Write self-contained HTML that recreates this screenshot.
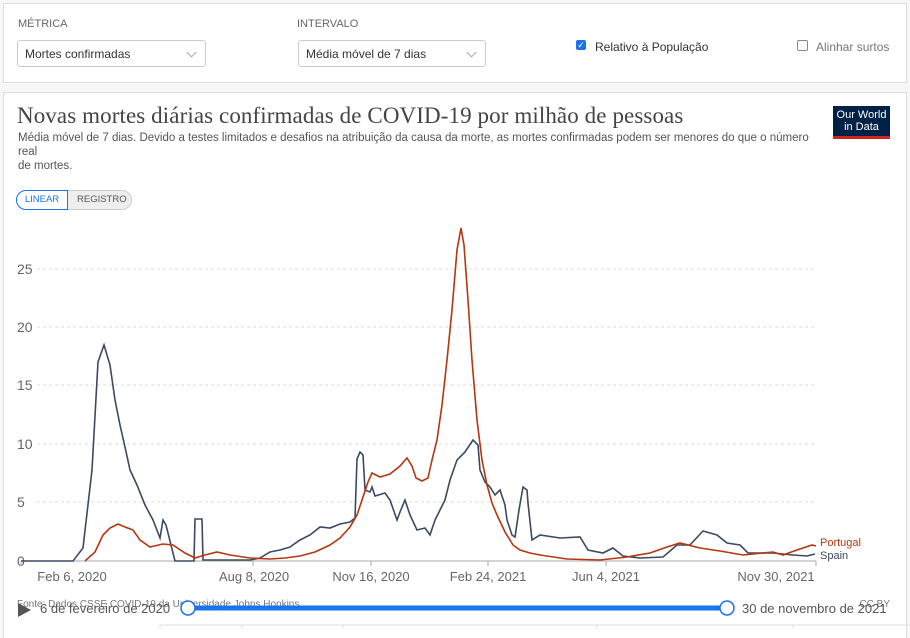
<!DOCTYPE html>
<html><head><meta charset="utf-8"><style>
body{margin:0;width:910px;height:629px;background:#f7f7f7;font-family:"Liberation Sans",sans-serif;overflow:hidden;position:relative}
.panel{position:absolute;background:#fff;border:1px solid #ddd}
.lbl{position:absolute;font-size:11px;color:#666}
.sel{position:absolute;height:27px;border:1px solid #ccc;border-radius:3px;font-size:12px;color:#333;line-height:27px;padding-left:7px;box-sizing:border-box;background:#fff}
.sel:after{content:"";position:absolute;right:10px;top:8px;width:6px;height:6px;border-right:1px solid #aaa;border-bottom:1px solid #aaa;transform:rotate(45deg)}
</style></head><body>
<div class="panel" style="left:3px;top:3px;width:902px;height:78px"></div>
<div class="lbl" style="left:18px;top:18px">MÉTRICA</div>
<div class="lbl" style="left:297px;top:18px">INTERVALO</div>
<div class="sel" style="left:17px;top:40px;width:189px">Mortes confirmadas</div>
<div class="sel" style="left:298px;top:40px;width:188px">Média móvel de 7 dias</div>
<div style="position:absolute;left:576px;top:40px;width:10px;height:10px;background:#1a73e8;border-radius:2px;color:#fff;font-size:9px;line-height:10px;text-align:center">✓</div>
<div style="position:absolute;left:595px;top:40px;font-size:12px;color:#333">Relativo à População</div>
<div style="position:absolute;left:797px;top:40px;width:9px;height:9px;border:1px solid #888;border-radius:2px"></div>
<div style="position:absolute;left:816px;top:40px;font-size:12px;color:#777">Alinhar surtos</div>
<div class="panel" style="left:3px;top:92px;width:902px;height:545px;border-bottom:none"></div>
<div style="position:absolute;left:17px;top:103px;font-family:'Liberation Serif',serif;font-size:23px;color:#444;letter-spacing:0.1px">Novas mortes diárias confirmadas de COVID-19 por milhão de pessoas</div>
<div style="position:absolute;left:18px;top:131px;width:810px;font-size:11.5px;color:#555;line-height:14px">Média móvel de 7 dias. Devido a testes limitados e desafios na atribuição da causa da morte, as mortes confirmadas podem ser menores do que o número<br>real<br>de mortes.</div>
<div style="position:absolute;left:833px;top:106px;width:57px;height:33px;background:#002147;color:#fff;font-size:11px;line-height:12px;text-align:center;padding-top:3px;box-sizing:border-box;border-bottom:3px solid #ce261e">Our World<br>in Data</div>
<div style="position:absolute;left:16px;top:190px;width:114px;height:18px;border:1px solid #ccc;border-radius:10px;background:#eee;font-size:9.5px;line-height:18px;color:#555"><span style="position:absolute;left:-1px;top:-1px;width:50px;height:18px;border:1px solid #1a73e8;border-radius:10px 0 0 10px;background:#fff;color:#1a73e8;text-align:center">LINEAR</span><span style="position:absolute;left:60px">REGISTRO</span></div>
<svg width="910" height="629" style="position:absolute;left:0;top:0" font-family="Liberation Sans, sans-serif">
<g stroke="#ddd" stroke-dasharray="3,3">
<line x1="37" x2="816" y1="502" y2="502"/><line x1="37" x2="816" y1="444" y2="444"/><line x1="37" x2="816" y1="385" y2="385"/><line x1="37" x2="816" y1="327" y2="327"/><line x1="37" x2="816" y1="269" y2="269"/></g>
<g font-size="14" fill="#666">
<text x="17" y="566">0</text><text x="17" y="507">5</text><text x="17" y="449">10</text><text x="17" y="390">15</text><text x="17" y="332">20</text><text x="17" y="274">25</text></g>
<line x1="21" x2="816" y1="561" y2="561" stroke="#aaa"/>
<g stroke="#aaa"><line x1="21" x2="21" y1="561" y2="566"/><line x1="253" x2="253" y1="561" y2="566"/><line x1="371" x2="371" y1="561" y2="566"/><line x1="488" x2="488" y1="561" y2="566"/><line x1="606" x2="606" y1="561" y2="566"/><line x1="816" x2="816" y1="561" y2="566"/></g>
<g font-size="13" fill="#666" text-anchor="middle">
<text x="72" y="581">Feb 6, 2020</text><text x="254" y="581">Aug 8, 2020</text><text x="371" y="581">Nov 16, 2020</text><text x="488" y="581">Feb 24, 2021</text><text x="606" y="581">Jun 4, 2021</text><text x="776" y="581">Nov 30, 2021</text></g>
<polyline fill="none" stroke="#3b4a60" stroke-width="1.6" points="21,561 73,561 83,548 92,470 98,362 104,345 110,365 115,400 120,425 125,447 130,470 137,485 145,505 153,520 160,538 163,520 166,525 175,561 194,561 195,519 202,519 203,560 250,560 260,558 270,552 280,550 290,547 300,540 310,535 320,527 330,528 340,524 350,522 355,518 357,459 360,452 363,455 365,490 370,492 372,487 375,496 385,493 390,500 397,520 400,512 405,500 410,515 417,530 425,528 430,535 435,520 440,510 445,500 450,480 457,460 465,452 473,440 478,445 480,470 485,482 490,487 495,495 500,490 505,505 507,520 512,535 515,537 519,510 523,487 527,490 528,503 532,540 540,535 560,538 580,537 588,550 603,553 613,548 623,556 640,558 663,557 677,545 690,545 703,531 717,535 727,543 740,545 748,553 773,553 793,555 807,556 815,554"/>
<polyline fill="none" stroke="#b5360f" stroke-width="1.6" points="85,561 95,552 103,535 110,528 118,524 125,527 133,530 140,540 150,547 163,544 173,545 185,553 195,558 205,555 217,552 230,555 250,558 270,559 285,558 300,556 315,552 330,545 340,538 350,527 357,515 362,500 368,482 372,473 380,477 390,474 400,466 407,458 412,466 416,478 422,481 428,478 432,460 437,440 442,405 447,360 452,310 457,250 461,228 464,245 468,300 472,360 477,420 482,460 487,485 492,503 497,515 505,532 513,545 520,550 530,553 540,555 567,559 600,560 627,557 650,553 667,547 680,543 700,548 720,551 743,555 773,552 783,555 797,550 812,545 816,546"/>
<text x="820" y="546" font-size="11" fill="#b5360f">Portugal</text>
<text x="820" y="559" font-size="11" fill="#3b4a60">Spain</text>
<text x="17" y="607" font-size="10" fill="#777">Fonte: Dados CSSE COVID-19 da Universidade Johns Hopkins</text>
<text x="890" y="607" font-size="10" fill="#777" text-anchor="end">CC BY</text>
<polygon points="18,603 18,617 31,610" fill="#555"/>
<text x="40" y="613" font-size="13" fill="#555">6 de fevereiro de 2020</text>
<text x="742" y="613" font-size="13" fill="#555">30 de novembro de 2021</text>
<line x1="188" x2="727" y1="608" y2="608" stroke="#1a73e8" stroke-width="5"/>
<circle cx="188" cy="608" r="7" fill="#fff" stroke="#1a73e8" stroke-width="1.5"/>
<circle cx="727" cy="608" r="7" fill="#fff" stroke="#1a73e8" stroke-width="1.5"/>
<g stroke="#ddd"><line x1="160" x2="910" y1="625" y2="625"/><line x1="160" x2="160" y1="625" y2="629"/><line x1="242" x2="242" y1="625" y2="629"/><line x1="343" x2="343" y1="625" y2="629"/><line x1="597" x2="597" y1="625" y2="629"/><line x1="793" x2="793" y1="625" y2="629"/></g>
</svg>
</body></html>
